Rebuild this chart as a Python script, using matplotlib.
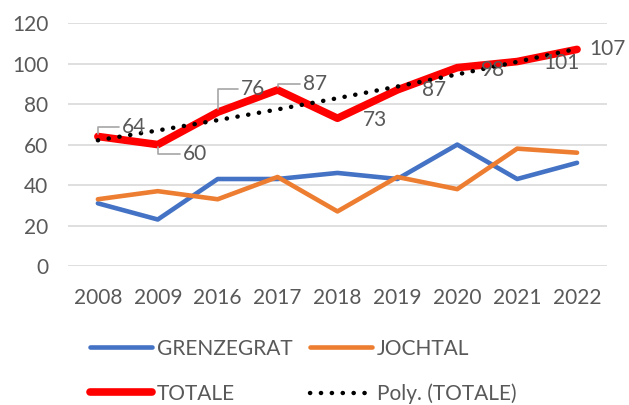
import numpy as np
import matplotlib
matplotlib.use("Agg")
import matplotlib.pyplot as plt

# dati
anni = ["2008", "2009", "2016", "2017", "2018", "2019", "2020", "2021", "2022"]
grenzegrat = [31, 23, 43, 43, 46, 43, 60, 43, 51]
jochtal = [33, 37, 33, 44, 27, 44, 38, 58, 56]
totale = [64, 60, 76, 87, 73, 87, 98, 101, 107]

# posizione etichette (offset in punti) e se serve la linea guida
offset_etichette = [(17, 7), (18, -7), (17, 17), (18, 4), (18, -1), (18, 0), (17, -2), (19, -1), (8.5, 0)]
con_guida = [True, True, True, True, False, False, False, False, False]

plt.rcParams["font.family"] = ["Lato", "DejaVu Sans"]
grigio = "#595959"
fs = 15

fig = plt.figure(figsize=(6.29, 4.05), dpi=100)
ax = fig.add_axes([0.108, 0.343, 0.857, 0.600])

x = np.arange(len(anni))
l1, = ax.plot(x, grenzegrat, color="#4472C4", lw=3.3, solid_capstyle="round", label="GRENZEGRAT")
l2, = ax.plot(x, jochtal, color="#ED7D31", lw=3.3, solid_capstyle="round", label="JOCHTAL")
l3, = ax.plot(x, totale, color="#FF0000", lw=5.5, solid_capstyle="round", label="TOTALE")

# linea di tendenza polinomiale (ordine 2) come in Excel
coef = np.polyfit(x + 1, totale, 2)
trend = np.polyval(coef, x + 1)
l4, = ax.plot(x, trend, color="black", lw=3.2, linestyle=(0, (0.05, 2.4)),
              dash_capstyle="round", label="Poly. (TOTALE)")

for i, v in enumerate(totale):
    dx, dy = offset_etichette[i]
    props = None
    if con_guida[i]:
        props = dict(arrowstyle="-", color="#A6A6A6", lw=1.2, shrinkA=0, shrinkB=2,
                     connectionstyle="angle,angleA=0,angleB=90,rad=0")
    ax.annotate(str(v), (x[i], v), xytext=(dx, dy), textcoords="offset points",
                ha="left", va="center", fontsize=fs, color=grigio,
                arrowprops=props)

ax.set_xlim(-0.5, len(anni) - 0.5)
ax.set_ylim(0, 120)
ax.set_yticks(range(0, 121, 20))
ax.set_xticks(x)
ax.set_xticklabels(anni)
ax.grid(axis="y", color="#D9D9D9", lw=1.2)
ax.set_axisbelow(True)
for s in ax.spines.values():
    s.set_visible(False)
ax.tick_params(axis="both", length=0, labelsize=fs, colors=grigio)
ax.tick_params(axis="x", pad=16)
ax.tick_params(axis="y", pad=14)

fig.legend([l1, l3, l2, l4], ["GRENZEGRAT", "TOTALE", "JOCHTAL", "Poly. (TOTALE)"],
           ncol=2, loc="center", bbox_to_anchor=(0.482, 0.083), frameon=False,
           fontsize=fs, labelcolor=grigio, handlelength=3.0, handletextpad=0.25,
           columnspacing=0.8, labelspacing=1.2, borderpad=0)

fig.savefig("out.png", dpi=100)
